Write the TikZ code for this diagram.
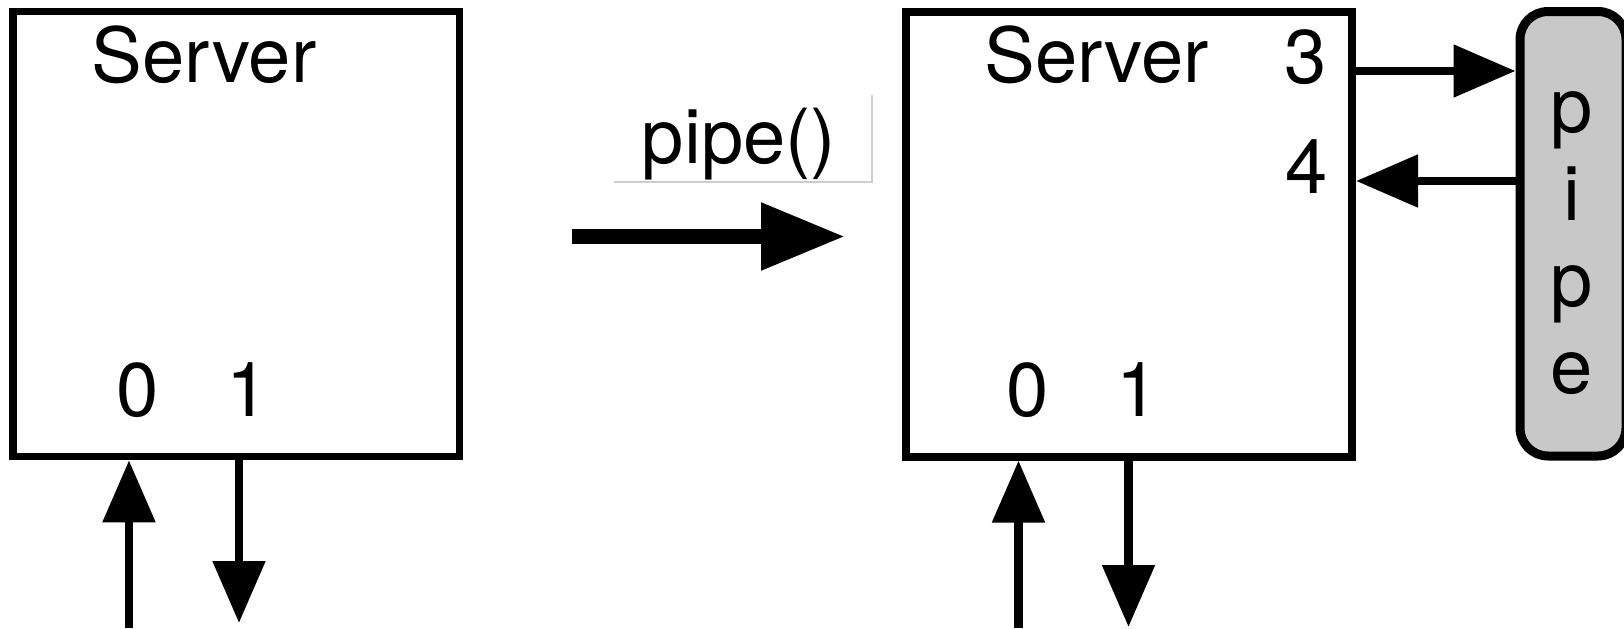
\documentclass[tikz,border=0pt]{standalone}
\usepackage{fontspec}
\setmainfont{TeX Gyre Heros}
\usetikzlibrary{arrows.meta}
\definecolor{pipegray}{RGB}{200,200,200}
\definecolor{framegray}{RGB}{205,205,205}
\begin{document}
\begin{tikzpicture}[x=0.5pt,y=-0.5pt,
  srvbox/.style={draw,line width=3.8pt,minimum width=223.25pt,minimum height=222.5pt,inner sep=0pt},
  pipebox/.style={draw,line width=4.5pt,fill=pipegray,rounded corners=14pt,minimum width=53pt,minimum height=222.25pt,inner sep=0pt},
  lbl/.style={inner sep=0pt,anchor=base,font=\fontsize{38}{40}\selectfont},
  conn/.style={line width=4.3pt,-{Triangle[width=25.5pt,length=31pt]}},
  bigconn/.style={line width=7.5pt,-{Triangle[width=32pt,length=42pt]}},
  framel/.style={draw=framegray,line width=0.6pt}]
\useasboundingbox (0,0) rectangle (1624,628);

% left server
\node[srvbox] (srv1) at (236.25,234) {};
\node[lbl,anchor=base west] (srv1t) at (91.5,82) {Server};
\node[lbl] (srv1z) at (137.5,416) {0};
\node[lbl] (srv1o) at (248,416) {1};

% right server
\node[srvbox] (srv2) at (1129,234.25) {};
\node[lbl,anchor=base west] (srv2t) at (984,82) {Server};
\node[lbl] (srv2z) at (1027.5,416) {0};
\node[lbl] (srv2o) at (1138,416) {1};
\node[lbl] (srv2th) at (1305.5,83) {3};
\node[lbl] (srv2fo) at (1306.5,193) {4};

% pipe
\node[pipebox] (pipe) at (1573,233.75) {};
\node[lbl] (pp1) at (1572,132) {p};
\node[lbl] (pi1) at (1572,220) {i};
\node[lbl] (pp2) at (1572,306) {p};
\node[lbl] (pe1) at (1572,393) {e};

% pipe() label, clipped by its frame
\begin{scope}
  \clip (600,90) rectangle (872,182);
  \node[lbl] (call) at (739,163) {pipe()};
\end{scope}
\draw[framel] (614,182) -- (872,182) -- (872,95);

% big arrow
\coordinate (bigA) at (572,236.5);
\coordinate (bigB) at (845,236.5);
\draw[bigconn] (bigA) -- (bigB);

% bottom arrows, left
\coordinate (l0) at (129,628);
\coordinate (l1) at (239,623);
\draw[conn] (l0) -- (l0 |- srv1.south);
\draw[conn] (l1 |- srv1.south) -- (l1);

% bottom arrows, right
\coordinate (r0) at (1018.5,628);
\coordinate (r1) at (1128.5,627);
\draw[conn] (r0) -- (r0 |- srv2.south);
\draw[conn] (r1 |- srv2.south) -- (r1);

% fd 3 and 4 to pipe
\coordinate (y3) at (0,71);
\coordinate (y4) at (0,181);
\draw[conn] (srv2.east |- y3) -- (pipe.west |- y3);
\draw[conn] (pipe.west |- y4) -- (srv2.east |- y4);
\end{tikzpicture}
\end{document}
